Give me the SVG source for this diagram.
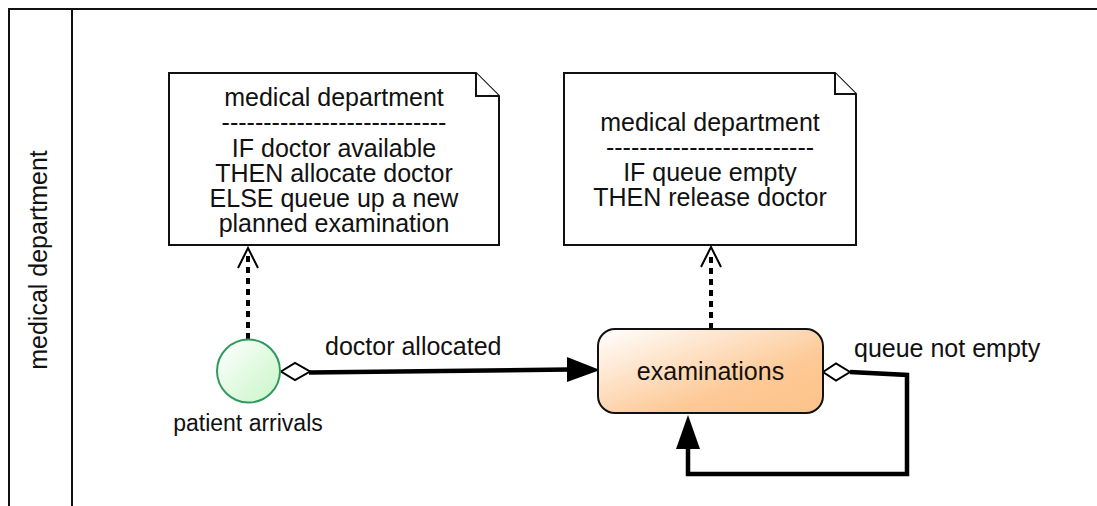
<svg xmlns="http://www.w3.org/2000/svg" width="1097" height="506" viewBox="0 0 1097 506">
  <style>
    text { font-family: "Liberation Sans", Arial, sans-serif; fill: #111; }
    .t25 { font-size: 25px; text-anchor: middle; }
    .lbl { font-size: 25px; }
    .note { fill: #fff; stroke: #111; stroke-width: 2; }
    .flow { fill: none; stroke: #000; stroke-width: 4.5; }
    .dep { fill: none; stroke: #000; stroke-width: 4; stroke-dasharray: 6 5; }
    .open { fill: none; stroke: #000; stroke-width: 2; }
    .dia { fill: #fff; stroke: #000; stroke-width: 2; }
  </style>
  <defs>
    <linearGradient id="actGrad" x1="0" y1="0" x2="1" y2="1">
      <stop offset="0" stop-color="#ffffff"/>
      <stop offset="0.65" stop-color="#fdc996"/>
      <stop offset="1" stop-color="#fdc28a"/>
    </linearGradient>
    <linearGradient id="genGrad" x1="0" y1="0" x2="1" y2="1">
      <stop offset="0" stop-color="#ffffff"/>
      <stop offset="1" stop-color="#c8f5c8"/>
    </linearGradient>
  </defs>

  <rect width="1097" height="506" fill="#fff"/>

  <!-- swimlane -->
  <g id="lane">
    <path d="M9 520 V9 H1110" fill="none" stroke="#111" stroke-width="2"/>
    <line x1="72" y1="9" x2="72" y2="520" stroke="#111" stroke-width="2"/>
    <text class="t25" transform="translate(47 260) rotate(-90)">medical department</text>
  </g>

  <!-- notes -->
  <g id="note1">
    <path class="note" d="M169 73 H476 L499 96 V245 H169 Z"/>
    <path class="note" d="M476 73 V96 H499"/>
    <text class="t25" x="334" y="106">medical department</text>
    <text class="t25" x="334" y="131">---------------------------</text>
    <text class="t25" x="334" y="157">IF doctor available</text>
    <text class="t25" x="334" y="182">THEN allocate doctor</text>
    <text class="t25" x="334" y="207">ELSE queue up a new</text>
    <text class="t25" x="334" y="232">planned examination</text>
  </g>

  <g id="note2">
    <path class="note" d="M564 73 H835 L856 94 V245 H564 Z"/>
    <path class="note" d="M835 73 V94 H856"/>
    <text class="t25" x="710" y="131">medical department</text>
    <text class="t25" x="710" y="156">-------------------------</text>
    <text class="t25" x="710" y="181">IF queue empty</text>
    <text class="t25" x="710" y="206">THEN release doctor</text>
  </g>

  <!-- connectors -->
  <g id="connectors">
    <!-- dependency links -->
    <line class="dep" x1="248" y1="339" x2="248" y2="252"/>
    <polyline class="open" points="238,268 248,248 258,268"/>
    <line class="dep" x1="711" y1="329" x2="711" y2="252"/>
    <polyline class="open" points="701,267 711,247 721,267"/>

    <!-- doctor allocated -->
    <line class="flow" x1="309" y1="372.5" x2="570" y2="369.5"/>
    <polygon points="600,370 567,357 567,382" fill="#000"/>
    <polygon class="dia" points="281,371.5 295,363 310,371.5 295,380"/>
    <text class="lbl" x="325" y="355">doctor allocated</text>

    <!-- queue not empty loop -->
    <polyline class="flow" points="850,372 907,375 907,474 688,474 688,447"/>
    <polygon points="688,415 676,449 700,449" fill="#000"/>
    <polygon class="dia" points="823,372 836,363.5 850,372 836,380.5"/>
    <text class="lbl" x="854" y="357">queue not empty</text>
  </g>

  <!-- generator -->
  <g id="patient-arrivals">
    <circle cx="248.5" cy="371" r="31.5" fill="url(#genGrad)" stroke="#2f9a5f" stroke-width="2"/>
    <text x="248" y="431" style="font-size:23px;text-anchor:middle">patient arrivals</text>
  </g>

  <!-- activity -->
  <g id="examinations">
    <rect x="598" y="329" width="225" height="84" rx="17" fill="url(#actGrad)" stroke="#111" stroke-width="2"/>
    <text class="t25" x="710.5" y="380">examinations</text>
  </g>
</svg>
